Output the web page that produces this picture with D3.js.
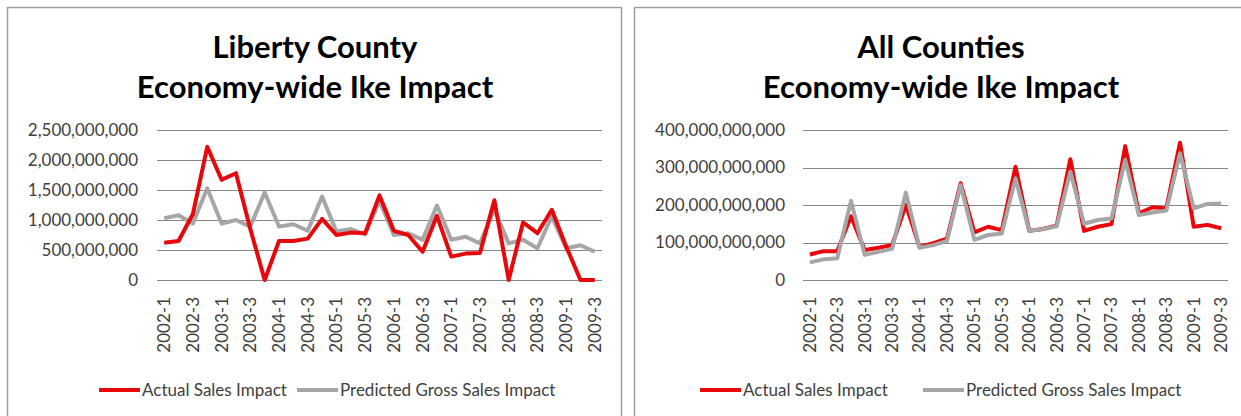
<!DOCTYPE html>
<html>
<head>
<meta charset="utf-8">
<script src="https://cdn.jsdelivr.net/npm/d3@7"></script>
<style>
  html, body { margin: 0; padding: 0; background: #fff; }
  svg { display: block; }
  text { font-family: Lato, "Open Sans", sans-serif; }
</style>
</head>
<body>
<svg id="chart" width="1241" height="416"></svg>
<script>
// Quarters 2002-1 .. 2009-3
const quarters = [
  "2002-1","2002-2","2002-3","2002-4",
  "2003-1","2003-2","2003-3","2003-4",
  "2004-1","2004-2","2004-3","2004-4",
  "2005-1","2005-2","2005-3","2005-4",
  "2006-1","2006-2","2006-3","2006-4",
  "2007-1","2007-2","2007-3","2007-4",
  "2008-1","2008-2","2008-3","2008-4",
  "2009-1","2009-2","2009-3"
];

// Liberty County, dollars
const libertyActual = [
  620e6, 650e6, 1100e6, 2220e6, 1670e6, 1780e6, 850e6, 0,
  650e6, 650e6, 690e6, 1020e6, 750e6, 790e6, 780e6, 1410e6,
  820e6, 750e6, 470e6, 1070e6, 390e6, 440e6, 450e6, 1330e6,
  0, 960e6, 780e6, 1170e6, 560e6, 0, 0
];
const libertyPredicted = [
  1030e6, 1080e6, 940e6, 1530e6, 940e6, 1000e6, 890e6, 1460e6,
  890e6, 930e6, 820e6, 1390e6, 810e6, 850e6, 760e6, 1320e6,
  750e6, 780e6, 670e6, 1240e6, 670e6, 720e6, 610e6, 1170e6,
  610e6, 670e6, 530e6, 1060e6, 530e6, 580e6, 470e6
];

// All counties, dollars
const allActual = [
  68e9, 77e9, 77e9, 170e9, 80e9, 86e9, 93e9, 200e9,
  88e9, 98e9, 110e9, 258e9, 127e9, 142e9, 133e9, 302e9,
  131e9, 136e9, 145e9, 322e9, 131e9, 142e9, 149e9, 357e9,
  178e9, 194e9, 191e9, 366e9, 142e9, 147e9, 138e9
];
const allPredicted = [
  47e9, 55e9, 58e9, 211e9, 67e9, 75e9, 83e9, 233e9,
  86e9, 93e9, 104e9, 253e9, 107e9, 120e9, 124e9, 271e9,
  131e9, 136e9, 143e9, 289e9, 150e9, 160e9, 164e9, 320e9,
  173e9, 180e9, 185e9, 338e9, 191e9, 203e9, 204e9
];

const libertyTicks = [0, 500e6, 1000e6, 1500e6, 2000e6, 2500e6];
const allTicks = [0, 100e9, 200e9, 300e9, 400e9];

const seriesNames = ["Actual Sales Impact", "Predicted Gross Sales Impact"];
const titlesLiberty = ["Liberty County", "Economy-wide Ike Impact"];
const titlesAll = ["All Counties", "Economy-wide Ike Impact"];

const RED = "#e8070b";
const GRAY = "#a6a6a6";

const svg = d3.select("#chart");
const fmt = d3.format(",");

function panel(opts) {
  const g = svg.append("g");

  // frame
  g.append("rect")
    .attr("x", opts.frame[0]).attr("y", opts.frame[1])
    .attr("width", opts.frame[2]).attr("height", opts.frame[3])
    .attr("fill", "#fff").attr("stroke", "#a0a0a0").attr("stroke-width", 1.5);

  // titles
  opts.titles.forEach((t, i) => {
    g.append("text")
      .attr("x", opts.titleX).attr("y", 58 + i * 40)
      .attr("text-anchor", "middle")
      .attr("font-size", 31).attr("font-weight", "bold")
      .attr("fill", "#000")
      .text(t);
  });

  const x = d3.scaleBand().domain(quarters).range([opts.x0, opts.x1]);
  const y = d3.scaleLinear().domain([0, opts.max]).range([280, 130]);

  // horizontal gridlines
  g.append("g").selectAll("line").data(opts.ticks).join("line")
    .attr("x1", opts.x0).attr("x2", opts.x1)
    .attr("y1", d => Math.round(y(d)) + 0.5).attr("y2", d => Math.round(y(d)) + 0.5)
    .attr("stroke", "#868686").attr("stroke-width", 1.2);

  // y axis labels
  const yAxis = d3.axisLeft(y).tickValues(opts.ticks).tickFormat(fmt).tickSize(0).tickPadding(0);
  const ya = g.append("g").attr("transform", `translate(${opts.labelRight},0)`).call(yAxis);
  ya.select(".domain").remove();
  ya.selectAll("text").attr("font-size", 17).attr("fill", "#404040")
    .attr("font-family", "Lato, sans-serif");

  // x axis labels (every other quarter)
  const xAxis = d3.axisBottom(x)
    .tickValues(quarters.filter((d, i) => i % 2 === 0))
    .tickSize(0).tickPadding(0);
  const xa = g.append("g").attr("transform", "translate(0,280)").call(xAxis);
  xa.select(".domain").remove();
  xa.selectAll("text")
    .attr("font-size", 17).attr("fill", "#404040").attr("font-family", "Lato, sans-serif")
    .attr("text-anchor", "end")
    .attr("transform", "rotate(-90)")
    .attr("x", -17).attr("y", 0).attr("dy", "0.35em");

  const line = d3.line()
    .x((d, i) => x(quarters[i]) + x.bandwidth() / 2)
    .y(d => y(d));

  const layers = [
    { data: opts.actual, color: RED },
    { data: opts.predicted, color: GRAY }
  ];
  const order = opts.redOnTop ? [layers[1], layers[0]] : layers;
  order.forEach(s => {
    g.append("path").datum(s.data)
      .attr("d", line)
      .attr("fill", "none").attr("stroke", s.color)
      .attr("stroke-width", 4).attr("stroke-linejoin", "round");
  });

  // legend
  const lg = g.append("g");
  const items = [
    { name: seriesNames[0], color: RED, x: opts.legend[0] },
    { name: seriesNames[1], color: GRAY, x: opts.legend[1] }
  ];
  items.forEach(it => {
    lg.append("line")
      .attr("x1", it.x).attr("x2", it.x + 41)
      .attr("y1", 390).attr("y2", 390)
      .attr("stroke", it.color).attr("stroke-width", 4);
    lg.append("text")
      .attr("x", it.x + 43).attr("y", 396)
      .attr("font-size", 17).attr("fill", "#404040")
      .text(it.name);
  });
}

panel({
  frame: [7.5, 7.5, 614, 420],
  titleX: 315,
  titles: titlesLiberty,
  x0: 157, x1: 602,
  labelRight: 138,
  max: 2500e6,
  ticks: libertyTicks,
  actual: libertyActual,
  predicted: libertyPredicted,
  redOnTop: true,
  legend: [99, 297]
});

panel({
  frame: [634.5, 7.5, 620, 420],
  titleX: 941,
  titles: titlesAll,
  x0: 803, x1: 1228,
  labelRight: 785,
  max: 400e9,
  ticks: allTicks,
  actual: allActual,
  predicted: allPredicted,
  redOnTop: false,
  legend: [700, 923]
});
</script>
</body>
</html>
